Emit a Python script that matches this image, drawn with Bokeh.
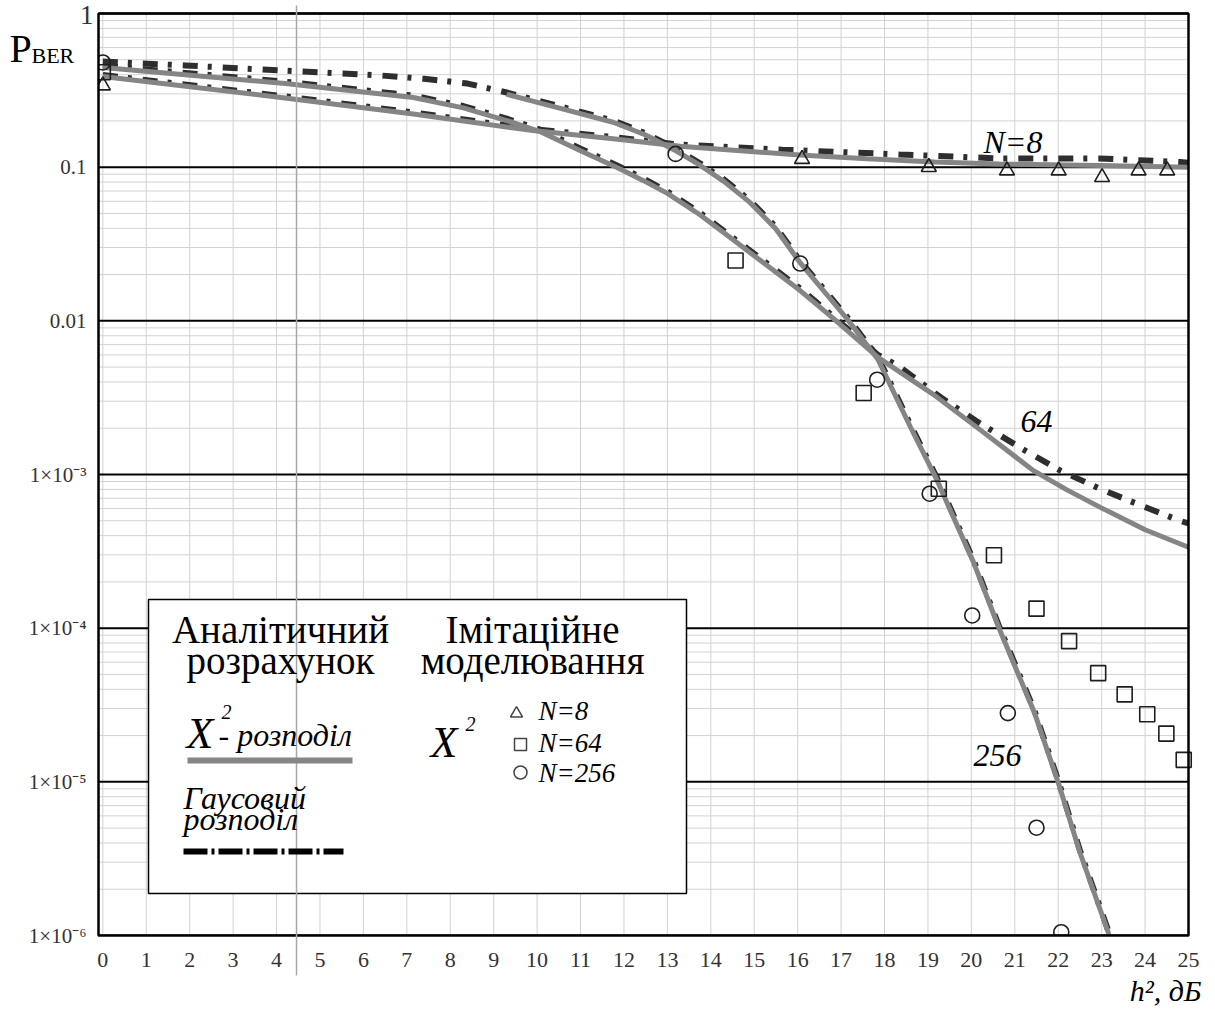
from bokeh.plotting import figure
from bokeh.models import Range1d, FixedTicker, Label, CustomJSTickFormatter
from bokeh.embed import file_html
from bokeh.resources import INLINE

# ---------------- data ----------------
x_ticks = list(range(0, 26))
y_ticks = [1, 0.1, 0.01, 1e-3, 1e-4, 1e-5, 1e-6]
y_tick_labels = ["1", "0.1", "0.01", "1×10⁻³", "1×10⁻⁴", "1×10⁻⁵", "1×10⁻⁶"]
x_title = "h², дБ"
y_title = ("P", "BER")

# chi^2 distribution (analytic), N = 8, 64, 256
chi2_n8_x = [0, 4.1, 7.15, 9.9, 11.75, 13.3, 13.75, 16.05, 17.6, 19.15, 20.65, 22.95, 25.0]
chi2_n8_y = [0.389, 0.284, 0.222, 0.173, 0.153, 0.1368, 0.1337, 0.120, 0.1135, 0.108, 0.105, 0.1026, 0.100]
chi2_n64_x = [0, 4.2, 7.15, 8.3, 9.3, 10.1, 11.0, 11.9, 12.45, 13.0, 13.75, 14.5, 16.05, 16.8, 17.85, 19.13,
              20.28, 21.43, 22.2, 22.97, 24.0, 25.0]
chi2_n64_y = [0.445, 0.350, 0.284, 0.243, 0.201, 0.169, 0.128, 0.0977, 0.0817, 0.0675, 0.049, 0.0339, 0.0158,
              0.0105, 0.00578, 0.00331, 0.00188, 0.00106, 0.000794, 0.000611, 0.000437, 0.000336]
chi2_n256_x = [9.3, 10.45, 11.75, 12.5, 13.15, 13.75, 14.3, 14.9, 15.5, 16.05, 17.15, 17.85, 18.6, 19.2, 20.05,
               20.65, 21.45, 22.0, 22.5, 23.15, 23.25]
chi2_n256_y = [0.298, 0.245, 0.196, 0.162, 0.130, 0.103, 0.0808, 0.0590, 0.0396, 0.0240, 0.0102, 0.0056,
               0.00203, 0.00093, 0.000268, 9.8e-5, 2.83e-5, 9.9e-6, 3.47e-6, 1.05e-6, 8.0e-7]

# Gaussian distribution (analytic), N = 8, 64, 256
gauss_n8_x = [0, 4.1, 7.15, 9.9, 11.75, 13.3, 15.65, 18.35, 20.65, 22.95, 24.8, 25.0]
gauss_n8_y = [0.398, 0.291, 0.227, 0.177, 0.157, 0.140, 0.130, 0.121, 0.114, 0.114, 0.108, 0.107]
gauss_n64_x = [0, 4.2, 7.15, 8.3, 9.3, 10.1, 11.0, 11.9, 12.45, 13.0, 13.75, 14.5, 16.05, 16.8, 17.85, 18.3,
               19.3, 20.2, 21.15, 22.05, 22.95, 23.9, 24.8, 25.0]
gauss_n64_y = [0.458, 0.360, 0.292, 0.250, 0.207, 0.174, 0.132, 0.1006, 0.0842, 0.0695, 0.0505, 0.0349, 0.0163,
               0.0108, 0.0060, 0.00513, 0.00317, 0.00215, 0.00148, 0.00106, 0.00081, 0.00063, 0.00050, 0.00048]
gauss_n256_x = [0, 1.9, 4.1, 6.4, 7.4, 8.4, 9.3, 10.45, 11.75, 12.5, 13.15, 13.75, 14.3, 14.9, 15.5, 16.05, 17.15,
                17.85, 18.6, 19.2, 20.05, 20.65, 21.45, 22.0, 22.5, 23.15, 23.25]
gauss_n256_y = [0.487, 0.459, 0.426, 0.395, 0.376, 0.350, 0.306, 0.252, 0.201, 0.166, 0.134, 0.106, 0.0832,
                0.0607, 0.0408, 0.0247, 0.0105, 0.0058, 0.0021, 0.00096, 0.000276, 0.000101, 2.92e-5, 1.02e-5,
                3.58e-6, 1.08e-6, 8.5e-7]

# simulation (imitation modelling) points
sim_n8_x = [0, 16.1, 19.02, 20.82, 22.01, 23.01, 23.85, 24.51]
sim_n8_y = [0.34, 0.113, 0.100, 0.095, 0.095, 0.086, 0.095, 0.095]
sim_n64_x = [0, 14.57, 17.52, 19.25, 20.52, 21.50, 22.25, 22.92, 23.53, 24.05, 24.49, 24.89]
sim_n64_y = [0.415, 0.0247, 0.00339, 0.000808, 0.000298, 0.000134, 8.24e-5, 5.1e-5, 3.71e-5, 2.75e-5,
             2.06e-5, 1.39e-5]
sim_n256_x = [0, 13.19, 16.06, 17.83, 19.04, 20.02, 20.84, 21.50, 22.07]
sim_n256_y = [0.48, 0.122, 0.0236, 0.00414, 0.00075, 0.000121, 2.8e-5, 5.03e-6, 1.05e-6]

marker_x = 4.46

# ---------------- layout helpers (canvas px -> data) ----------------
W, H = 1215, 1013
FL, FR, FT, FB = 98, 1188, 13, 935          # plot area inside the canvas
XR = (-0.1, 25.0)                          # x extent of the plot area
YR = (1e-6, 1.0)                           # y extent of the plot area


def dx(px):
    return XR[0] + (px - FL) * (XR[1] - XR[0]) / (FR - FL)


def dy(py):
    return 10 ** (-6 * (py - FT) / (FB - FT))


SERIF = "Liberation Serif"
GRAY = "#858585"
DARK = "#2e2e2e"
GRID = "#d2d2d2"
GAUSS_DASH = "15 10 4 11"

# the frame fills the whole canvas; axes sit at fixed locations (zero size)
p = figure(width=W, height=H, x_range=Range1d(dx(0), dx(W)), y_range=Range1d(dy(H), dy(0)),
           y_axis_type="log", output_backend="svg", toolbar_location=None, min_border=0, title=None)
p.background_fill_color = "white"
p.border_fill_color = "white"
p.outline_line_color = None
p.xgrid.visible = False
p.ygrid.visible = False

# x axis (tick labels 0..25 under the plot area)
p.xaxis.fixed_location = YR[0]
p.xaxis.ticker = FixedTicker(ticks=x_ticks)
p.xaxis.axis_line_color = None
p.xaxis.major_tick_line_color = None
p.xaxis.minor_tick_line_color = None
p.xaxis.major_label_text_font = SERIF
p.xaxis.major_label_text_font_size = "22px"
p.xaxis.major_label_text_color = "#333333"
p.xaxis.major_label_standoff = 11

# y axis (decade labels left of the plot area; the top "1" is drawn larger below)
p.yaxis.fixed_location = XR[0]
p.yaxis.ticker = FixedTicker(ticks=y_ticks[1:], minor_ticks=[])
p.yaxis.formatter = CustomJSTickFormatter(args=dict(yt=y_ticks, yl=y_tick_labels), code="""
for (let i = 1; i < yt.length; i++) {
  if (Math.abs(Math.log10(tick) - Math.log10(yt[i])) < 1e-6) return yl[i];
}
return "";
""")
p.yaxis.axis_line_color = None
p.yaxis.major_tick_line_color = None
p.yaxis.minor_tick_line_color = None
p.yaxis.major_label_text_font = SERIF
p.yaxis.major_label_text_font_size = "21px"
p.yaxis.major_label_text_color = "#333333"
p.yaxis.major_label_standoff = 6

# Mathcad-style grid limited to the plot area
minor = [m * 10 ** e for e in range(-6, 0) for m in range(2, 10)]
p.segment(x0=x_ticks, y0=[YR[0]] * len(x_ticks), x1=x_ticks, y1=[YR[1]] * len(x_ticks),
          line_color=GRID, line_width=1)
p.segment(x0=[XR[0]] * len(minor), y0=minor, x1=[XR[1]] * len(minor), y1=minor,
          line_color=GRID, line_width=1)
p.segment(x0=[XR[0]] * len(y_ticks), y0=y_ticks, x1=[XR[1]] * len(y_ticks), y1=y_ticks,
          line_color="black", line_width=2)

# legend box (white, covers the grid)
p.quad(left=[dx(148)], right=[dx(686)], top=[dy(599)], bottom=[dy(893)],
       fill_color="white", line_color="black", line_width=1.5)

# Gaussian curves (dash-dot, under the grey lines)
for gx, gy in [(gauss_n8_x, gauss_n8_y), (gauss_n64_x, gauss_n64_y), (gauss_n256_x, gauss_n256_y)]:
    p.line(gx, gy, line_color=DARK, line_width=6, line_dash=GAUSS_DASH)

# chi^2 curves (solid grey)
for cx, cy in [(chi2_n8_x, chi2_n8_y), (chi2_n64_x, chi2_n64_y), (chi2_n256_x, chi2_n256_y)]:
    p.line(cx, cy, line_color=GRAY, line_width=5)

# simulation markers
mk = dict(size=15, fill_color=None, line_color="#1e1e1e", line_width=1.6)
p.scatter(sim_n8_x, sim_n8_y, marker="triangle", **mk)
p.scatter(sim_n64_x, sim_n64_y, marker="square", **mk)
p.scatter(sim_n256_x, sim_n256_y, marker="circle", **mk)

# mask whatever spills out of the plot area (left and bottom), then the border
p.quad(left=[dx(0)], right=[XR[0]], bottom=[dy(H)], top=[dy(0)], fill_color="white", line_color=None)
p.quad(left=[XR[0]], right=[dx(W)], bottom=[dy(H)], top=[YR[0]], fill_color="white", line_color=None)
p.quad(left=[XR[0]], right=[XR[1]], bottom=[YR[0]], top=[YR[1]], fill_color=None,
       line_color="black", line_width=2.5)
# vertical marker line (crosses the border like in Mathcad)
p.segment(x0=[marker_x], y0=[dy(5)], x1=[marker_x], y1=[dy(975)], line_color="#a8a8a8", line_width=1.5)


def lab(px, py, text, size, style="normal", align="left", color="black"):
    """py is the intended baseline; text is centred on its cap height."""
    p.add_layout(Label(x=dx(px), y=dy(py - 0.34 * size), text=text, text_font=SERIF,
                       text_font_size=f"{size}px", text_font_style=style, text_align=align,
                       text_baseline="middle", text_color=color))


# axis titles and the top tick label
lab(9, 62, y_title[0], 40)
lab(31, 62, y_title[1], 22)
lab(93, 24, y_tick_labels[0], 27, align="right", color="#333333")
lab(1201, 1000, x_title, 30, style="italic", align="right")

# curve labels
lab(983, 152, "N=8", 32, style="italic")
lab(1020, 432, "64", 32, style="italic")
lab(973, 766, "256", 32, style="italic")

# legend contents
lab(280, 642, "Аналітичний", 39, align="center")
lab(280, 673, "розрахунок", 39, align="center")
lab(532, 642, "Імітаційне", 39, align="center")
lab(532, 673, "моделювання", 39, align="center")

lab(186, 748, "X", 44, style="italic")
lab(221, 718, "2", 20, style="italic")
lab(218, 745, "- розподіл", 32, style="italic")
p.line([dx(187), dx(352)], [dy(760), dy(760)], line_color=GRAY, line_width=6)

lab(183, 808, "Гаусовий", 32, style="italic")
lab(183, 829, "розподіл", 32, style="italic")
p.line([dx(183), dx(343)], [dy(851), dy(851)], line_color="black", line_width=6, line_dash="24 4 3 4")

lab(430, 757, "X", 44, style="italic")
lab(465, 730, "2", 20, style="italic")

lmk = dict(fill_color=None, line_color="#444444", line_width=1.5)
p.scatter([dx(516)], [dy(713)], marker="triangle", size=12, **lmk)
p.scatter([dx(520)], [dy(744)], marker="square", size=12, **lmk)
p.scatter([dx(520)], [dy(772)], marker="circle", size=13, **lmk)
lab(538, 720, "N=8", 27, style="italic")
lab(538, 752, "N=64", 27, style="italic")
lab(538, 782, "N=256", 27, style="italic")

open("out.html", "w").write(file_html(p, INLINE))
